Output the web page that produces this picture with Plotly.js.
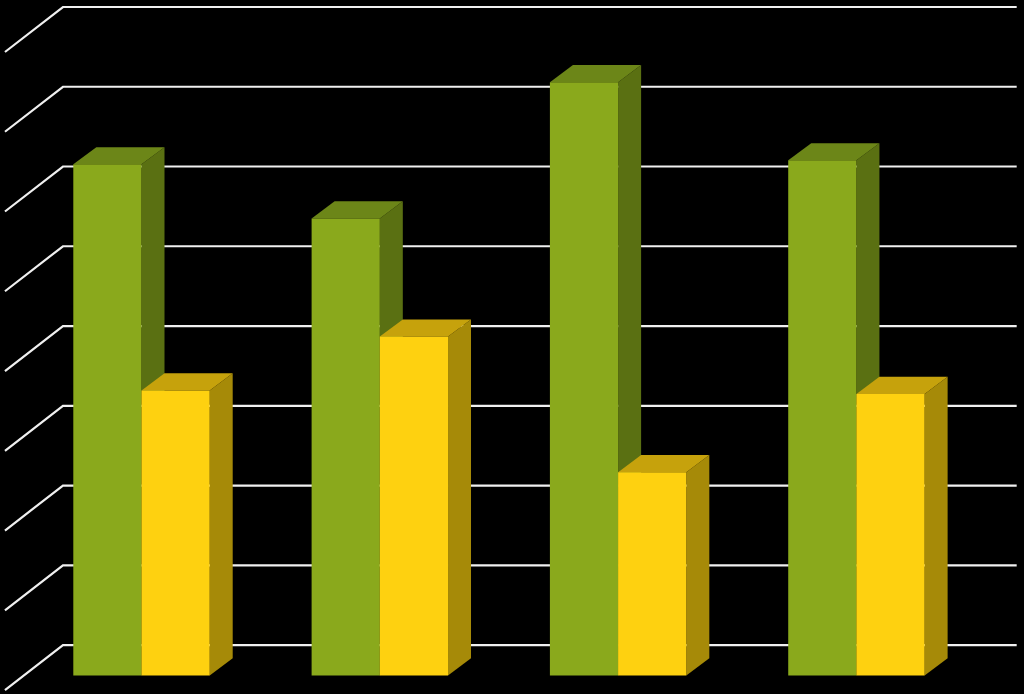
<!DOCTYPE html>
<html>
<head>
<meta charset="utf-8">
<script src="https://cdn.plot.ly/plotly-3.0.1.min.js"></script>
<style>html,body{margin:0;padding:0;background:#000;overflow:hidden}#chart{width:1024px;height:694px}</style>
</head>
<body>
<div id="chart"></div>
<script>
const groups = [0, 1, 2, 3];
const greenValues = [64.1, 57.3, 74.4, 64.6];
const yellowValues = [35.75, 42.5, 25.5, 35.3];
const gridValues = [0, 10, 20, 30, 40, 50, 60, 70, 80];

const barWidth = 0.2862;
const depthX = 0.0965, depthY = 2.15;
const wallLeft = -0.3296, wallRight = 3.6725, wallX = 0.2434, wallY = 3.82, sideDrop = 5.64;

function poly(points, fill) {
  return {type: 'path', layer: 'below', xref: 'x', yref: 'y',
    path: 'M' + points.map(p => p[0] + ',' + p[1]).join('L') + 'Z',
    fillcolor: fill, line: {width: 0}};
}
function gridLine(v) {
  const y = v + wallY;
  return {type: 'path', layer: 'below', xref: 'x', yref: 'y',
    path: `M${wallLeft - wallX},${y - sideDrop}L${wallLeft},${y}L${wallRight},${y}`,
    line: {color: '#f0f0f0', width: 2.2}};
}
function faces(x0, v, topColor, sideColor) {
  const x1 = x0 + barWidth;
  return [
    poly([[x1, 0], [x1 + depthX, depthY], [x1 + depthX, v + depthY], [x1, v]], sideColor),
    poly([[x0, v], [x1, v], [x1 + depthX, v + depthY], [x0 + depthX, v + depthY]], topColor)
  ];
}
const shapes = gridValues.map(gridLine);
groups.forEach((g, i) => {
  shapes.push(...faces(g - barWidth, greenValues[i], '#6c8618', '#5a7012'));
  shapes.push(...faces(g, yellowValues[i], '#c6a20c', '#a68a08'));
});

const traces = [
  {type: 'bar', x: groups, y: greenValues, marker: {color: '#8aa91c', line: {width: 0}}, hoverinfo: 'skip'},
  {type: 'bar', x: groups, y: yellowValues, marker: {color: '#fed110', line: {width: 0}}, hoverinfo: 'skip'}
];
const hidden = {showgrid: false, zeroline: false, showticklabels: false, ticks: '', showline: false, fixedrange: true};
const layout = {
  width: 1024, height: 694,
  margin: {l: 0, r: 0, t: 0, b: 0},
  paper_bgcolor: '#000', plot_bgcolor: '#000',
  showlegend: false,
  barmode: 'group', bargap: 0.4276, bargroupgap: 0,
  xaxis: Object.assign({range: [-0.5938, 3.7032]}, hidden),
  yaxis: Object.assign({range: [-2.32, 84.7]}, hidden),
  shapes: shapes
};
Plotly.newPlot('chart', traces, layout, {displayModeBar: false, staticPlot: true});
</script>
</body>
</html>
